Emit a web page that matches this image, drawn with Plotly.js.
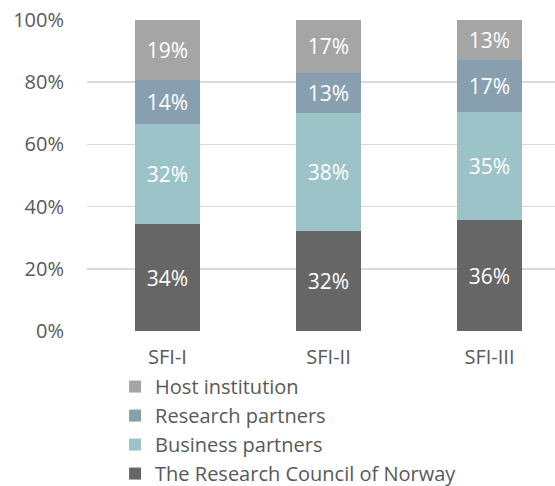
<!DOCTYPE html>
<html>
<head>
<meta charset="utf-8">
<script src="https://cdn.plot.ly/plotly-3.0.1.min.js"></script>
<style>html,body{margin:0;padding:0;background:#fff;}#chart{width:555px;height:486px;}</style>
</head>
<body>
<div id="chart"></div>
<script>
const categories = ["SFI-I", "SFI-II", "SFI-III"];
const seriesNames = ["The Research Council of Norway", "Business partners", "Research partners", "Host institution"];
const rcn = [34, 32, 36];
const business = [32, 38, 35];
const research = [14, 13, 17];
const host = [19, 17, 13];
const yTickVals = [0, 20, 40, 60, 80, 100];
const yTickText = ["0%", "20%", "40%", "60%", "80%", "100%"];

const colors = ["#666666", "#9BC3C8", "#889FAF", "#A5A5A5"];
const allVals = [rcn, business, research, host];

const traces = allVals.map((vals, i) => ({
  type: "bar",
  name: seriesNames[i],
  x: categories,
  y: vals,
  text: vals.map(v => v + "%"),
  textposition: "inside",
  insidetextanchor: "middle",
  textfont: {color: "#ffffff", size: 21, family: "Open Sans"},
  marker: {color: colors[i]},
  width: 0.4,
  hoverinfo: "skip"
}));

const layout = {
  width: 555,
  height: 486,
  margin: {l: 87, r: 0, t: 20, b: 155, autoexpand: false},
  barmode: "stack",
  barnorm: "percent",
  paper_bgcolor: "#ffffff",
  plot_bgcolor: "#ffffff",
  font: {family: "Open Sans", size: 20, color: "#595959"},
  showlegend: true,
  legend: {
    traceorder: "reversed",
    orientation: "v",
    x: 0.06,
    xanchor: "left",
    y: -0.116,
    yanchor: "top",
    font: {size: 20, color: "#595959"},
    itemwidth: 30,
    tracegroupgap: 0
  },
  xaxis: {
    range: [-0.5, 2.407],
    showgrid: false,
    zeroline: false,
    showline: false,
    ticks: "",
    ticklabelstandoff: 12,
    tickfont: {size: 20, color: "#595959"},
    fixedrange: true
  },
  yaxis: {
    range: [0, 100],
    tickvals: yTickVals,
    ticktext: yTickText,
    showgrid: true,
    gridcolor: "#D9D9D9",
    gridwidth: 1.5,
    zeroline: false,
    showline: false,
    ticks: "",
    ticklabelstandoff: 22,
    tickfont: {size: 20, color: "#595959"},
    fixedrange: true
  }
};

Plotly.newPlot("chart", traces, layout, {displayModeBar: false, staticPlot: true});
</script>
</body>
</html>
